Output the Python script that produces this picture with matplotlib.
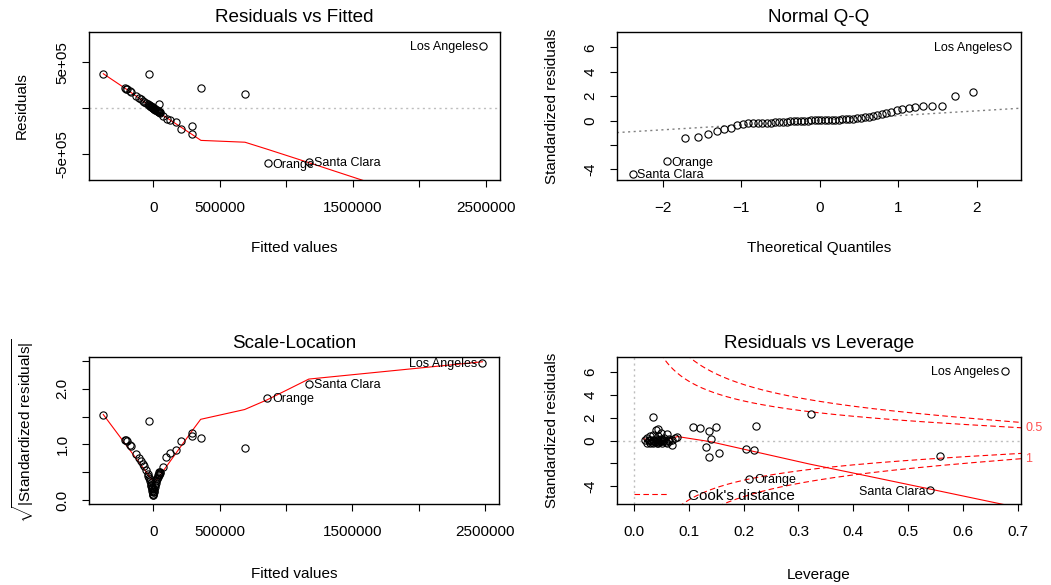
import statistics
import numpy as np
import matplotlib
matplotlib.use('Agg')
import matplotlib.pyplot as plt
from matplotlib.transforms import blended_transform_factory

plt.rcParams['font.family'] = ['Liberation Sans', 'DejaVu Sans']
plt.rcParams['mathtext.fontset'] = 'custom'
plt.rcParams['mathtext.rm'] = 'Liberation Sans'
plt.rcParams['mathtext.it'] = 'Liberation Sans'

# per county values (fitted, residual, std. residual, leverage)
names = ['Los Angeles', 'Santa Clara', 'Orange']
fitted = [2481000, 1173000, 860000, -376000, -32000, 358000, 689000, 45000,
          289000, 289000, 208000, 171000, 126000, 100000,
          -215000, -205000, -198000, -178000, -165000, -130000, -108000, -93000,
          -80000, -70000, -57000, -42000, -36000, -30000, -26000, -22000,
          -18000, -15000, -13000, -11000, -9000, -7000, -5500, -3500, -1800, 0,
          75000, 50000, 48000, 46000, 44000, 42000, 40000, 36000, 32000, 28000,
          24000, 20000, 16000, 12000, 8000, 6000, 4000, 2000]
resid = [682000, -588000, -602000, 376000, 376000, 219000, 150000, 47000,
         -283000, -194000, -230000, -150000, -128000, -115000,
         222000, 212000, 205000, 185000, 172000, 132000, 110000, 95000,
         82000, 70000, 57000, 42000, 36000, 30000, 27000, 23000,
         19000, 15000, 13000, 11000, 9500, 7600, 5700, 3800, 1900, 0,
         -85000, -48000, -46000, -44000, -42000, -40000, -38000, -34000, -30000, -27000,
         -23000, -19000, -15000, -11000, -7600, -5700, -3800, -1900]
std_res = [6.08, -4.35, -3.35, 2.33, 2.03, 1.23, 0.88, 0.25,
           -1.45, -1.32, -1.12, -0.82, -0.71, -0.60,
           1.15, 1.15, 1.12, 0.99, 0.93, 0.70, 0.58, 0.50,
           0.43, 0.37, 0.30, 0.22, 0.19, 0.16, 0.14, 0.12,
           0.10, 0.08, 0.07, 0.06, 0.05, 0.04, 0.03, 0.02, 0.012, 0.008,
           -0.36, -0.25, -0.24, -0.23, -0.22, -0.21, -0.20, -0.18, -0.16, -0.14,
           -0.12, -0.10, -0.08, -0.06, -0.04, -0.03, -0.02, -0.01]
lev = [0.675, 0.540, 0.210, 0.323, 0.036, 0.222, 0.137, 0.075,
       0.138, 0.557, 0.156, 0.219, 0.205, 0.132,
       0.108, 0.150, 0.120, 0.045, 0.040, 0.050, 0.060, 0.035,
       0.045, 0.030, 0.078, 0.055, 0.025, 0.065, 0.040, 0.050,
       0.140, 0.030, 0.045, 0.070, 0.035, 0.055, 0.020, 0.048, 0.062, 0.028,
       0.070, 0.045, 0.035, 0.060, 0.030, 0.052, 0.042, 0.025, 0.058, 0.038,
       0.047, 0.033, 0.065, 0.028, 0.050, 0.043, 0.037, 0.054]

# red smoother lines
rf_smooth_x = [-376000, -200000, 75000, 289000, 358000, 689000, 860000, 1173000, 2481000]
rf_smooth_y = [376000, 205000, -80000, -285000, -352000, -372000, -450000, -597000, -1220000]
sl_smooth_x = [-376000, 10000, 289000, 358000, 689000, 860000, 1173000, 2481000]
sl_smooth_y = [1.536, 0.31, 1.23, 1.45, 1.625, 1.80, 2.17, 2.48]
lev_smooth_x = [0.018, 0.048, 0.08, 0.14, 0.2, 0.32, 0.4, 0.545, 0.675]
lev_smooth_y = [0.15, -0.1, 0.35, -0.1, -0.75, -2.05, -2.84, -4.29, -5.6]
qq_line_x = [-2.58, 2.56]
qq_line_y = [-0.99, 1.01]
n_params = 6
cook_levels = [0.5, 1]

fitted = np.array(fitted, float)
resid = np.array(resid, float)
std_res = np.array(std_res, float)
lev = np.array(lev, float)

W, H = 1051, 585
fig = plt.figure(figsize=(W / 100, H / 100), dpi=100)


def make_ax(x0, y0, x1, y1):
    ax = fig.add_axes([x0 / W, (H - y1) / H, (x1 - x0) / W, (y1 - y0) / H])
    for s in ax.spines.values():
        s.set_linewidth(1.0)
    ax.tick_params(length=5, width=0.8, labelsize=11, direction='out')
    ax.tick_params(axis='x', pad=10)
    ax.tick_params(axis='y', pad=9, labelrotation=90)
    return ax


def decorate(ax, title, xlab, ylab, box_h, title_off, xl_off, yl_off, box_w):
    ax.text(0.5, 1 + title_off / box_h, title, transform=ax.transAxes,
            ha='center', va='center', fontsize=13.6)
    ax.text(0.5, -xl_off / box_h, xlab, transform=ax.transAxes,
            ha='center', va='center', fontsize=11)
    ax.text(-yl_off / box_w, 0.5, ylab, transform=ax.transAxes, rotation=90,
            ha='center', va='center', fontsize=11)
    for lab in ax.get_yticklabels():
        lab.set_va('center')


def pts(ax, x, y):
    ax.plot(x, y, 'o', ms=5.2, mfc='none', mec='black', mew=0.8, clip_on=False)


# like R's plot.lm: label to the left if right of the middle of the labelled points
def label_ids(ax, x, y, idx):
    mid = (min(x[k] for k in idx) + max(x[k] for k in idx)) / 2
    for k in idx:
        if x[k] > mid:
            ax.annotate(names[k], (x[k], y[k]), xytext=(-3.5, -1), textcoords='offset points',
                        ha='right', va='center', fontsize=9, annotation_clip=False)
        else:
            ax.annotate(names[k], (x[k], y[k]), xytext=(3.5, -1), textcoords='offset points',
                        ha='left', va='center', fontsize=9, annotation_clip=False)


ids = [0, 1, 2]

# Residuals vs Fitted
ax1 = make_ax(89, 32, 500, 180)
ax1.set_xlim(-483700, 2606500)
ax1.set_ylim(-784700, 832000)
ax1.axhline(0, color='#BEBEBE', ls=(0, (1.5, 2.5)), lw=1.0)
ax1.plot(rf_smooth_x, rf_smooth_y, color='red', lw=0.8)
pts(ax1, fitted, resid)
label_ids(ax1, fitted, resid, ids)
ax1.set_xticks([0, 5e5, 1e6, 1.5e6, 2e6, 2.5e6])
ax1.set_xticklabels(['0', '500000', '', '1500000', '', '2500000'])
ax1.set_yticks([-5e5, 0, 5e5])
ax1.set_yticklabels(['-5e+05', '', '5e+05'])
decorate(ax1, 'Residuals vs Fitted', 'Fitted values', 'Residuals', 148, 15, 68, 67, 411)

# Normal Q-Q
n = len(std_res)
theo = np.array([statistics.NormalDist().inv_cdf((i + 0.5) / n) for i in range(n)])
order = np.argsort(std_res)
qx = np.empty(n)
qx[order] = theo
ax2 = make_ax(617, 32, 1021, 180)
ax2.set_xlim(-2.58, 2.56)
ax2.set_ylim(-4.88, 7.26)
ax2.plot(qq_line_x, qq_line_y, color='#7F7F7F', ls=(0, (1.5, 2.5)), lw=1.0)
pts(ax2, qx, std_res)
label_ids(ax2, qx, std_res, ids)
ax2.set_xticks([-2, -1, 0, 1, 2])
ax2.set_yticks([-4, -2, 0, 2, 4, 6])
ax2.set_yticklabels(['-4', '', '0', '2', '4', '6'])
decorate(ax2, 'Normal Q-Q', 'Theoretical Quantiles', 'Standardized residuals', 148, 15, 68, 65, 404)

# Scale-Location
sl = np.sqrt(np.abs(std_res))
ax3 = make_ax(89, 357, 499, 504)
ax3.set_xlim(-483700, 2606500)
ax3.set_ylim(-0.065, 2.565)
ax3.plot(sl_smooth_x, sl_smooth_y, color='red', lw=0.8)
pts(ax3, fitted, sl)
label_ids(ax3, fitted, sl, ids)
ax3.set_xticks([0, 5e5, 1e6, 1.5e6, 2e6, 2.5e6])
ax3.set_xticklabels(['0', '500000', '', '1500000', '', '2500000'])
ax3.set_yticks([0, 0.5, 1, 1.5, 2, 2.5])
ax3.set_yticklabels(['0.0', '', '1.0', '', '2.0', ''])
decorate(ax3, 'Scale-Location', 'Fitted values',
         r'$\sqrt{|\mathrm{Standardized\ residuals}|}$', 147, 14, 70, 66, 410)

# Residuals vs Leverage
ax4 = make_ax(617, 357, 1021, 504)
ax4.set_xlim(-0.0303, 0.705)
ax4.set_ylim(-5.54, 7.3)
ax4.axhline(0, color='#BEBEBE', ls=(0, (1.5, 2.5)), lw=1.0)
ax4.axvline(0, color='#BEBEBE', ls=(0, (1.5, 2.5)), lw=1.0)
ax4.plot(lev_smooth_x, lev_smooth_y, color='red', lw=0.8)
hh = np.linspace(0.005, 0.705, 200)
for c in cook_levels:
    cl = np.sqrt(c * n_params * (1 - hh) / hh)
    ax4.plot(hh, cl, color='red', ls=(0, (5, 3)), lw=0.8)
    ax4.plot(hh, -cl, color='red', ls=(0, (5, 3)), lw=0.8)
pts(ax4, lev, std_res)
label_ids(ax4, lev, std_res, ids)
ax4.set_xticks([0, 0.1, 0.2, 0.3, 0.4, 0.5, 0.6, 0.7])
ax4.set_xticklabels(['0.0', '0.1', '0.2', '0.3', '0.4', '0.5', '0.6', '0.7'])
ax4.set_yticks([-4, -2, 0, 2, 4, 6])
ax4.set_yticklabels(['-4', '', '0', '2', '4', '6'])
ymult = np.sqrt(n_params * (1 - 0.705) / 0.705)
tr = blended_transform_factory(ax4.transAxes, ax4.transData)
ax4.text(1.01, np.sqrt(0.5) * ymult, '0.5', transform=tr, color='#FF5050',
         fontsize=9, ha='left', va='center')
ax4.text(1.01, -np.sqrt(1) * ymult, '1', transform=tr, color='#FF5050',
         fontsize=9, ha='left', va='center')
ax4.plot([0.0, 0.064], [-4.66, -4.66], color='red', ls=(0, (5, 3)), lw=0.8)
ax4.text(0.099, -4.8, "Cook's distance", fontsize=11, ha='left', va='center')
decorate(ax4, 'Residuals vs Leverage', 'Leverage', 'Standardized residuals', 147, 14, 71, 65, 404)

fig.savefig('out.png', dpi=100)
